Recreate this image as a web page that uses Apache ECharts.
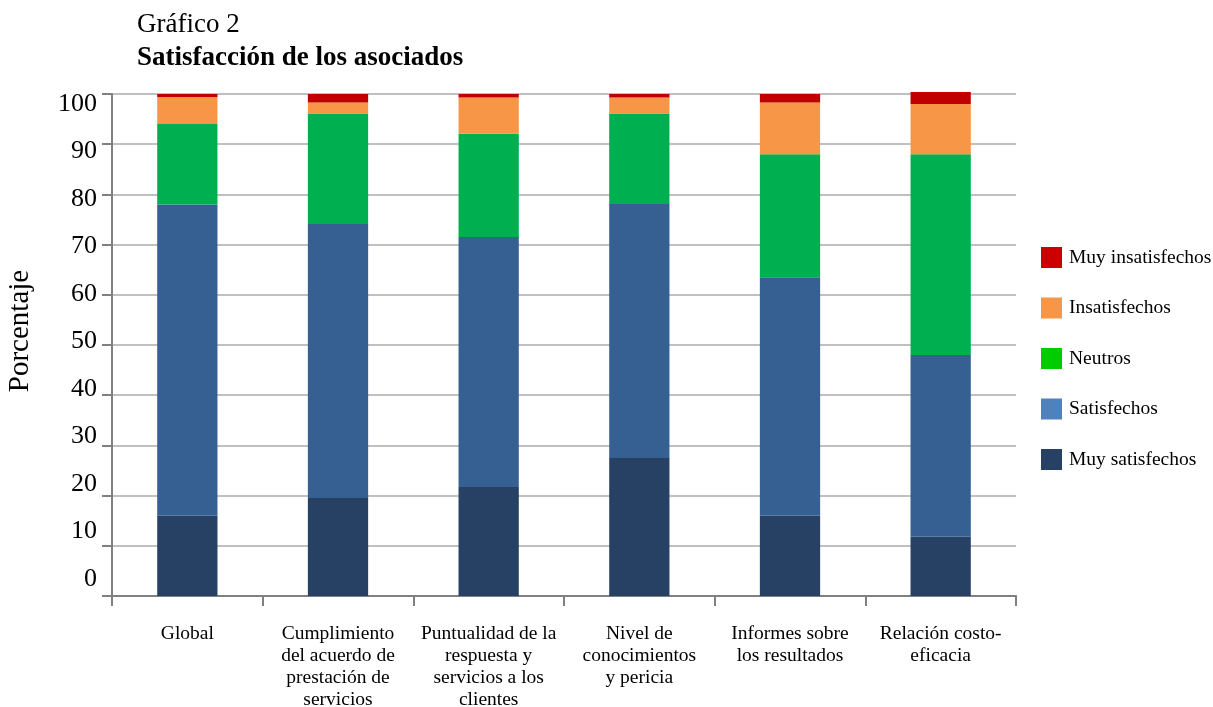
<!DOCTYPE html>
<html><head><meta charset="utf-8">
<script src="https://cdn.jsdelivr.net/npm/echarts@6/dist/echarts.min.js"></script>
<style>html,body{margin:0;padding:0;background:#fff}#c{width:1213px;height:707px}</style>
</head><body><div id="c"></div>
<script>
const categories = [
  "Global",
  "Cumplimiento\ndel acuerdo de\nprestación de\nservicios",
  "Puntualidad de la\nrespuesta y\nservicios a los\nclientes",
  "Nivel de\nconocimientos\ny pericia",
  "Informes sobre\nlos resultados",
  "Relación costo-\neficacia"
];
const muySatisfechos = [16, 19.5, 21.7, 27.5, 16, 11.8];
const satisfechos = [62, 54.6, 49.8, 50.6, 47.5, 36.2];
const neutros = [16, 22, 20.6, 18, 24.5, 40];
const insatisfechos = [5.4, 2.2, 7.2, 3.2, 10.3, 10];
const muyInsatisfechos = [0.6, 1.7, 0.7, 0.7, 1.7, 2.4];
const yTicks = [0, 10, 20, 30, 40, 50, 60, 70, 80, 90, 100];

const font = "'Liberation Serif', 'Times New Roman', serif";
const seriesDefs = [
  {name: "Muy satisfechos", data: muySatisfechos, color: "#264163", legend: "#264163"},
  {name: "Satisfechos", data: satisfechos, color: "#376092", legend: "#4F81BD"},
  {name: "Neutros", data: neutros, color: "#00B050", legend: "#00CC00"},
  {name: "Insatisfechos", data: insatisfechos, color: "#F79646", legend: "#F79646"},
  {name: "Muy insatisfechos", data: muyInsatisfechos, color: "#C00000", legend: "#CC0000"}
];

const chart = echarts.init(document.getElementById('c'));
chart.setOption({
  animation: false,
  textStyle: {fontFamily: font},
  title: {
    text: "Gráfico 2",
    subtext: "Satisfacción de los asociados",
    left: 132, top: 6, itemGap: 7,
    textStyle: {fontFamily: font, fontSize: 27, fontWeight: 'normal', color: '#000'},
    subtextStyle: {fontFamily: font, fontSize: 27, fontWeight: 'bold', color: '#000'}
  },
  legend: {
    orient: 'vertical', left: 1036, top: 242,
    itemWidth: 21, itemHeight: 21, itemGap: 29.5,
    textStyle: {fontFamily: font, fontSize: 19.5, color: '#000', padding: [0, 0, 0, 2]},
    data: seriesDefs.slice().reverse().map(s => ({name: s.name, icon: 'rect', itemStyle: {color: s.legend}}))
  },
  grid: {left: 112, right: 197, top: 94, bottom: 111, outerBoundsMode: 'none'},
  xAxis: {
    type: 'category', data: categories,
    axisLine: {lineStyle: {color: '#808080', width: 2}},
    axisTick: {show: true, length: 10, lineStyle: {color: '#808080', width: 2}},
    axisLabel: {fontFamily: font, fontSize: 19.5, color: '#000', lineHeight: 22, margin: 27, interval: 0}
  },
  yAxis: [{
    type: 'value', min: 0, max: 100, interval: 10,
    name: 'Porcentaje', nameLocation: 'middle', nameGap: 77, nameRotate: 90,
    nameTextStyle: {fontFamily: font, fontSize: 29, color: '#000', padding: [0, 0, 0, 28]},
    axisLine: {show: true, lineStyle: {color: '#808080', width: 2}},
    axisTick: {show: true, length: 10, lineStyle: {color: '#808080', width: 2}},
    axisLabel: {show: false},
    splitLine: {lineStyle: {color: '#C0C0C0', width: 2}}
  }, {
    type: 'value', position: 'left', min: -3.58, max: 102.1,
    axisLine: {show: false}, axisTick: {show: false}, splitLine: {show: false},
    axisLabel: {fontFamily: font, fontSize: 26, color: '#000', margin: 15, customValues: yTicks}
  }],
  series: seriesDefs.map(s => ({
    name: s.name, type: 'bar', stack: 'total', data: s.data,
    barWidth: '40%', clip: false,
    itemStyle: {color: s.color}
  }))
});
</script></body></html>
